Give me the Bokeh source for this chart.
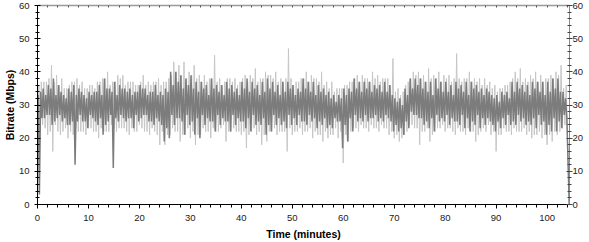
from bokeh.plotting import figure
from bokeh.models import LinearAxis, SingleIntervalTicker, FixedTicker, Range1d
from bokeh.embed import file_html
from bokeh.resources import INLINE

# Per-minute readings (Mbps) of the bitrate trace, minutes 0..103
# light trace: low at m, high at m+0.25, low at m+0.5, high at m+0.75
light_low = [0, 24, 21, 16, 22, 22, 20, 21, 22, 22,
             23, 22, 20, 22, 22, 23, 23, 23, 21, 22,
             24, 22, 21, 22, 18, 18, 21, 22, 19, 21,
             20, 18, 21, 22, 20, 22, 23, 19, 22, 22,
             21, 17, 22, 21, 18, 19, 22, 21, 22, 16,
             21, 22, 21, 22, 20, 21, 19, 20, 21, 20,
             12.5, 19, 23, 22, 23, 22, 23, 22, 23, 21,
             20, 19, 21, 24, 23, 18, 22, 19, 22, 23,
             22, 23, 21, 22, 21, 22, 19, 22, 22, 21,
             16, 21, 22, 21, 22, 22, 21, 20, 21, 20,
             18, 19, 21, 23]
light_high_b = [36, 37, 38, 37, 36, 35, 36, 37, 36, 35,
                36, 35, 37, 38, 36, 37, 38, 36, 37, 36,
                37, 36, 36, 37, 36, 37, 39, 40, 39, 38,
                39, 38, 37, 37, 38, 37, 36, 38, 37, 36,
                38, 37, 38, 37, 38, 39, 38, 37, 37, 47,
                36, 37, 38, 37, 38, 37, 36, 35, 34, 35,
                36, 37, 38, 37, 38, 37, 38, 37, 38, 36,
                34, 33, 36, 38, 39, 38, 37, 38, 38, 37,
                38, 37, 45.5, 37, 38, 37, 37, 36, 36, 35,
                34, 35, 36, 38, 38, 37, 37, 38, 37, 37,
                38, 38, 39, 35]
light_low_b = [22, 23, 22, 24, 21, 23, 22, 23, 22, 21,
               23, 22, 23, 22, 24, 22, 23, 22, 23, 22,
               23, 22, 23, 21, 22, 21, 23, 22, 21, 23,
               22, 21, 23, 22, 23, 22, 24, 22, 23, 22,
               22, 21, 23, 22, 21, 22, 23, 22, 22, 23,
               22, 23, 22, 23, 22, 21, 22, 21, 23, 22,
               21, 22, 23, 24, 23, 24, 23, 24, 23, 22,
               21, 20, 22, 24, 23, 22, 23, 21, 23, 24,
               23, 22, 23, 22, 23, 22, 21, 23, 24, 22,
               21, 23, 22, 23, 22, 23, 22, 21, 22, 21,
               21, 22, 22, 24]
light_high = [37, 37, 42, 39, 38, 35, 37, 38, 37, 35,
              36, 37, 38, 40, 37, 39, 39, 37, 37, 36,
              39, 37, 37, 38, 37, 38, 43, 42, 43, 40,
              42, 39, 39, 38, 45, 38, 37, 38, 38, 37,
              39, 39, 41, 38, 40, 39, 40, 38, 38, 38,
              37, 38, 40, 39, 38, 40, 37, 37, 35, 35,
              36, 37, 39, 39, 38, 40, 39, 38, 38, 44,
              35, 34, 37, 40, 40, 39, 41, 39, 40, 39,
              39, 38, 38, 38, 40, 38, 38, 38, 37, 36,
              35, 36, 37, 40, 41, 38, 39, 40, 39, 38,
              39, 40, 42, 36]
# dark trace: high at m+0.125, low at m+0.375, high at m+0.625, low at m+0.875
dark_high = [33, 35, 36, 38, 36, 33, 35, 36, 35, 33,
             34, 34, 36, 38, 35, 37, 36, 35, 35, 34,
             36, 35, 34, 36, 34, 35, 40, 40, 39, 38,
             39, 37, 37, 36, 38, 36, 36, 37, 36, 35,
             37, 38, 37, 36, 37, 38, 37, 36, 37, 37,
             36, 35, 38, 37, 37, 36, 35, 34, 33, 33,
             35, 35, 38, 37, 37, 37, 36, 36, 37, 36,
             32, 32, 35, 38, 38, 38, 37, 37, 38, 37,
             37, 36, 37, 36, 37, 37, 36, 35, 35, 33,
             33, 34, 34, 37, 37, 36, 36, 37, 37, 37,
             37, 38, 38, 34]
dark_low_a = [3, 26, 27, 25, 27, 26, 24, 12, 27, 25,
              27, 25, 26, 24, 27, 26, 27, 25, 26, 27,
              26, 27, 25, 26, 24, 23, 27, 26, 25, 27,
              25, 26, 27, 26, 25, 27, 26, 25, 27, 26,
              25, 26, 27, 25, 26, 24, 27, 26, 25, 27,
              26, 27, 25, 27, 26, 25, 26, 24, 26, 25,
              24, 26, 27, 26, 27, 26, 27, 26, 27, 25,
              24, 23, 25, 28, 27, 26, 25, 26, 27, 26,
              27, 26, 25, 27, 26, 25, 27, 26, 26, 24,
              25, 26, 27, 25, 27, 26, 25, 26, 27, 25,
              24, 26, 25, 27]
dark_high_b = [34, 33, 35, 33, 34, 32, 34, 33, 34, 32,
               33, 34, 33, 35, 34, 33, 35, 34, 33, 34,
               35, 33, 34, 33, 33, 34, 36, 37, 35, 36,
               35, 34, 35, 33, 35, 34, 33, 35, 34, 33,
               35, 34, 35, 33, 34, 35, 34, 33, 34, 35,
               33, 34, 35, 34, 33, 34, 33, 32, 31, 32,
               33, 34, 35, 34, 35, 34, 35, 34, 34, 33,
               31, 30, 33, 35, 36, 35, 34, 33, 35, 34,
               34, 33, 35, 34, 33, 35, 34, 33, 34, 32,
               31, 33, 32, 34, 35, 34, 33, 35, 34, 33,
               34, 35, 34, 32]
dark_low = [26, 27, 24, 26, 25, 24, 25, 25, 25, 23,
            26, 24, 21, 25, 11, 25, 26, 26, 23, 25,
            27, 25, 24, 25, 19, 20, 24, 26, 21, 24,
            21, 20, 24, 25, 22, 24, 25, 22, 24, 25,
            23, 22, 24, 24, 21, 22, 24, 24, 23, 24,
            24, 25, 24, 25, 23, 24, 23, 23, 25, 17,
            19, 22, 25, 25, 25, 26, 25, 25, 26, 22,
            22, 21, 23, 27, 26, 24, 23, 22, 25, 25,
            24, 25, 24, 23, 22, 24, 23, 24, 25, 22,
            23, 24, 24, 24, 25, 24, 24, 23, 24, 21,
            22, 22, 23, 26]
# end of recording: trace drops to zero
end_time_min = [104.35]
end_mbps = [0]

# interleave readings into the two traces
light_t, light_v, dark_t, dark_v = [], [], [], []
for m in range(len(light_low)):
    light_t += [m, m + 0.25, m + 0.5, m + 0.75]
    light_v += [light_low[m], light_high_b[m], light_low_b[m], light_high[m]]
    dark_t += [m + 0.125, m + 0.375, m + 0.625, m + 0.875]
    dark_v += [dark_high[m], dark_low_a[m], dark_high_b[m], dark_low[m]]
light_t += end_time_min
light_v += end_mbps
dark_t += end_time_min
dark_v += end_mbps

FONT = "Liberation Sans"
TICK_COLOR = "#222222"

p = figure(width=589, height=242, output_backend="svg", toolbar_location=None,
           x_range=Range1d(0, 104.4), y_range=Range1d(0, 60),
           x_axis_label="Time (minutes)", y_axis_label="Bitrate (Mbps)",
           min_border_left=37, min_border_right=20, min_border_top=5,
           min_border_bottom=36)
p.outline_line_color = None
p.grid.visible = False
p.background_fill_color = "white"
p.border_fill_color = "white"

p.line(light_t, light_v, line_color="#c6c6c6", line_width=1)
p.line(dark_t, dark_v, line_color="#7c7c7c", line_width=1.5)


def style(ax, tin, tout, mtin, mtout, line_color, tick_color):
    ax.axis_line_color = line_color
    ax.major_tick_line_color = tick_color
    ax.minor_tick_line_color = tick_color
    ax.major_tick_in = tin
    ax.major_tick_out = tout
    ax.minor_tick_in = mtin
    ax.minor_tick_out = mtout
    ax.major_label_text_font = FONT
    ax.major_label_text_font_size = "9.5px"
    ax.major_label_text_color = TICK_COLOR
    ax.axis_label_text_font = FONT
    ax.axis_label_text_font_size = "10.5px"
    ax.axis_label_text_font_style = "bold"
    ax.axis_label_text_color = "#000000"


xa = p.xaxis[0]
xa.ticker = SingleIntervalTicker(interval=10, num_minor_ticks=5)
style(xa, 0, 4, 0, 3, "#000000", "#000000")
xa.major_label_standoff = 6
xa.axis_label_standoff = 4

ya = p.yaxis[0]
ya.ticker = SingleIntervalTicker(interval=10, num_minor_ticks=5)
style(ya, 3, 3, 2, 2, "#000000", "#000000")
ya.major_label_standoff = 5
ya.axis_label_standoff = 0

ra = LinearAxis(ticker=SingleIntervalTicker(interval=10, num_minor_ticks=5))
style(ra, 3, 3, 2, 2, "#8a8a8a", "#444444")
ra.major_label_standoff = 0
p.add_layout(ra, "right")

# top frame line with small inward ticks, no labels
ta = LinearAxis(ticker=FixedTicker(ticks=[], minor_ticks=list(range(0, 105, 2))))
style(ta, 2, 0, 2, 0, "#9a9a9a", "#555555")
ta.axis_line_width = 1.5
p.add_layout(ta, "above")

open("out.html", "w").write(file_html(p, INLINE))
